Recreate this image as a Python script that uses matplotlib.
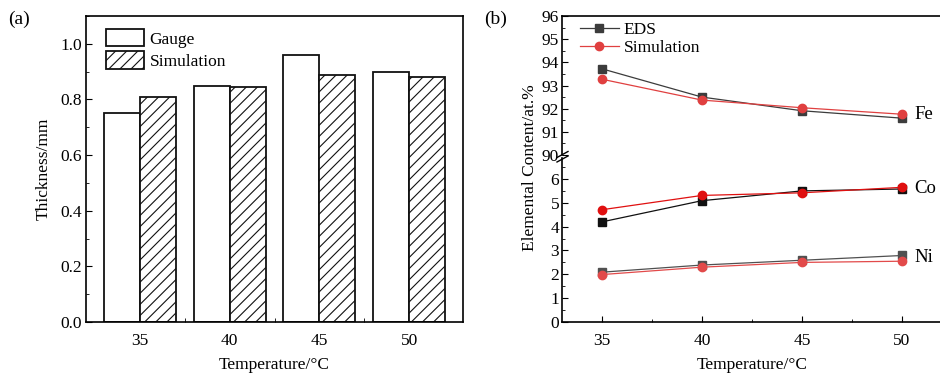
import matplotlib
matplotlib.use("Agg")
import matplotlib.pyplot as plt
import numpy as np
from matplotlib.ticker import MultipleLocator, FixedLocator

plt.rcParams['font.family'] = ['Liberation Serif', 'DejaVu Serif']
plt.rcParams['hatch.linewidth'] = 0.8

# ---------------- data ----------------
temps = [35, 40, 45, 50]
temp_labels = ['35', '40', '45', '50']
gauge = [0.75, 0.85, 0.96, 0.90]
sim_thick = [0.81, 0.843, 0.887, 0.880]

fe_eds = [93.72, 92.50, 91.91, 91.59]
fe_sim = [93.27, 92.37, 92.04, 91.76]
co_eds = [4.20, 5.09, 5.50, 5.58]
co_sim = [4.71, 5.31, 5.42, 5.65]
ni_eds = [2.09, 2.39, 2.59, 2.79]
ni_sim = [1.99, 2.30, 2.50, 2.55]

W, H = 940, 374
fig = plt.figure(figsize=(W / 100, H / 100), dpi=100)

def ax_rect(l, t, r, b):
    return [l / W, 1 - b / H, (r - l) / W, (b - t) / H]

FS = 12.5
LW = 1.2

# ---------------- panel (a) ----------------
axa = fig.add_axes(ax_rect(86, 16, 463, 322))
x = np.arange(len(temps))
bw = 0.4
axa.bar(x - bw / 2, gauge, bw, facecolor='white', edgecolor='#111111',
        linewidth=1.3, label='Gauge')
axa.bar(x + bw / 2, sim_thick, bw, facecolor='white', edgecolor='#111111',
        linewidth=1.3, hatch='///', label='Simulation')
axa.set_xlim(-0.6, 3.6)
axa.set_ylim(0, 1.1)
axa.set_xticks(x)
axa.set_xticklabels(temp_labels)
axa.xaxis.set_minor_locator(FixedLocator([0.5, 1.5, 2.5]))
axa.yaxis.set_major_locator(MultipleLocator(0.2))
axa.yaxis.set_minor_locator(MultipleLocator(0.1))
axa.yaxis.set_major_formatter(matplotlib.ticker.FormatStrFormatter('%.1f'))
axa.tick_params(axis='x', which='major', length=0, pad=8, labelsize=FS)
axa.tick_params(axis='x', which='minor', direction='in', length=3)
axa.tick_params(axis='y', which='major', direction='in', length=4, labelsize=FS, pad=3)
axa.tick_params(axis='y', which='minor', direction='in', length=2.5)
for s in axa.spines.values():
    s.set_linewidth(LW)
axa.set_ylabel('Thickness/mm', fontsize=FS, labelpad=6)
axa.set_xlabel('Temperature/°C', fontsize=FS, labelpad=6)
axa.legend(loc='upper left', bbox_to_anchor=(0.035, 0.98), frameon=False,
           fontsize=FS, handlelength=2.2, handleheight=1.15, handletextpad=0.3,
           labelspacing=0.22, borderaxespad=0)
fig.text(8 / W, 1 - 19 / H, '(a)', fontsize=14, va='center', ha='left')

# ---------------- panel (b) ----------------
axu = fig.add_axes(ax_rect(562, 16, 942, 155))
axl = fig.add_axes(ax_rect(562, 158, 942, 322))

eds_c = '#3c3c3c'
sim_c = '#e04040'
ms = 5.5
lw = 0.9

axu.plot(temps, fe_eds, '-s', color=eds_c, ms=ms, lw=lw, label='EDS')
axu.plot(temps, fe_sim, '-o', color=sim_c, ms=ms + 0.5, lw=lw, label='Simulation')
axl.plot(temps, co_eds, '-s', color='#111111', ms=ms, lw=lw)
axl.plot(temps, co_sim, '-o', color='#e01010', ms=ms + 0.5, lw=lw)
axl.plot(temps, ni_eds, '-s', color='#505050', ms=ms, lw=lw)
axl.plot(temps, ni_sim, '-o', color='#e24a4a', ms=ms + 0.5, lw=lw)

for a in (axu, axl):
    a.set_xlim(33, 52)
    for s in a.spines.values():
        s.set_linewidth(LW)
    a.yaxis.set_minor_locator(MultipleLocator(0.5))
    a.tick_params(axis='y', which='major', direction='in', length=4, labelsize=FS, pad=2)
    a.tick_params(axis='y', which='minor', direction='in', length=2.5)

axu.set_ylim(90, 96)
axu.yaxis.set_major_locator(MultipleLocator(1))
axu.spines['bottom'].set_visible(False)
axu.tick_params(axis='x', which='both', bottom=False, labelbottom=False)

axl.set_ylim(0, 6.88)
axl.yaxis.set_major_locator(MultipleLocator(1))
axl.spines['top'].set_visible(False)
axl.set_xticks(temps)
axl.set_xticklabels(temp_labels)
axl.xaxis.set_minor_locator(MultipleLocator(2.5))
axl.tick_params(axis='x', which='major', direction='in', length=4, labelsize=FS, pad=8)
axl.tick_params(axis='x', which='minor', direction='in', length=2.5)
axl.set_xlabel('Temperature/°C', fontsize=FS, labelpad=6)

axu.legend(loc='upper left', bbox_to_anchor=(0.03, 1.01), frameon=False,
           fontsize=FS, handlelength=2.2, handletextpad=0.3,
           labelspacing=0.15, borderaxespad=0)

# break marks
for yb in (154.5, 159):
    x0 = 562 - 5
    fig.add_artist(plt.Line2D([x0 / W, (x0 + 11) / W],
                              [1 - (yb + 3) / H, 1 - (yb - 3) / H],
                              color='black', lw=1.0))

axu.text(50.6, 91.75, 'Fe', fontsize=FS + 1, va='center', ha='left')
axl.text(50.6, 5.62, 'Co', fontsize=FS + 1, va='center', ha='left')
axl.text(50.6, 2.7, 'Ni', fontsize=FS + 1, va='center', ha='left')

fig.text(530 / W, 1 - 168 / H, 'Elemental Content/at.%', rotation=90,
         fontsize=FS, va='center', ha='center')
fig.text(484 / W, 1 - 19 / H, '(b)', fontsize=14, va='center', ha='left')

fig.savefig('out.png', dpi=100)
